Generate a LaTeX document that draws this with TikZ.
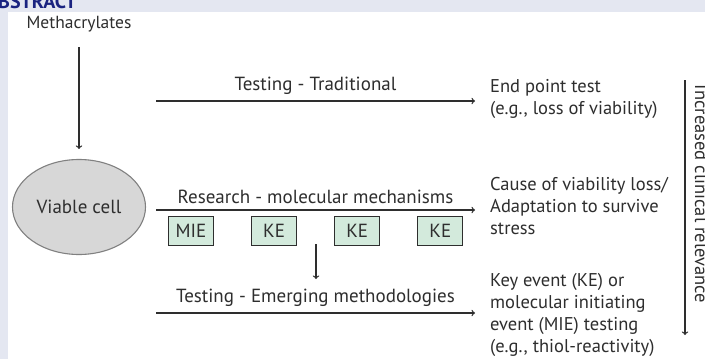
\documentclass[tikz,border=0pt]{standalone}
\usepackage{fontspec}
\setmainfont{PT Sans}
\usetikzlibrary{positioning, arrows, shapes.geometric}
\definecolor{pagebg}{HTML}{E4E7F1}
\definecolor{txt}{HTML}{2E2E2E}
\definecolor{boxfill}{HTML}{D3EADC}
\definecolor{cellfill}{HTML}{D7D7D7}
\definecolor{headblue}{HTML}{1A2380}

\begin{document}
\begin{tikzpicture}[x=1pt, y=-1pt, >=to, font=\fontsize{19}{21.5}\selectfont, text=txt,
  flow/.style = {->, draw=txt, line width=1.3pt},
  evbox/.style = {draw=txt, line width=1.1pt, fill=boxfill, minimum width=45pt, minimum height=29pt, inner sep=0pt},
  outcome/.style = {anchor=west, align=left, inner sep=0pt, font=\fontsize{18.5}{22}\selectfont}]
\useasboundingbox (0,0) rectangle (705,359);
\clip (0,0) rectangle (705,359);
\fill[pagebg] (0,0) rectangle (705,359);
\fill[white] (8,12) rectangle (705,359);
\node[anchor=base west, inner sep=0pt, text=headblue, font=\bfseries\fontsize{20}{20}\selectfont] (head) at (-2,8) {BSTRACT};

% cell and the compound
\node[font=\fontsize{17.5}{20}\selectfont] (meth) at (79,24) {Methacrylates};
\node[ellipse, draw=gray, line width=1.1pt, fill=cellfill, minimum width=133pt, minimum height=95pt] (cell) at (79,207) {Viable cell};
\draw[flow, shorten <=12pt, shorten >=10pt] (meth) -- (cell);

% three routes
\coordinate (trad-s) at (156,101);
\coordinate (trad-e) at (475,101);
\coordinate (res-s) at (156,210);
\coordinate (res-e) at (475,210);
\coordinate (emg-s) at (156,313);
\coordinate (emg-e) at (475,313);
\draw[flow] (trad-s) -- node[above=2pt] (trad) {Testing - Traditional} (trad-e);
\draw[flow] (res-s) -- node[above=2pt] (res) {Research - molecular mechanisms} (res-e);
\draw[flow] (emg-s) -- node[above=2pt] (emg) {Testing - Emerging methodologies} (emg-e);

% events
\node[evbox] (mie) at (191,231) {MIE};
\node[evbox, right=37pt of mie] (ke1) {KE};
\node[evbox, right=37pt of ke1] (ke2) {KE};
\node[evbox, right=37pt of ke2] (ke3) {KE};
\coordinate (down-s) at (316,244);
\coordinate (down-e) at (316,279);
\draw[flow] (down-s) -- (down-e);

% outcomes
\node[outcome] (end) at (490,99) {End point test\\(e.g., loss of viability)};
\node[outcome] (cause) at (490,206) {Cause of viability loss/\\Adaptation to survive\\stress};
\node[outcome] (key) at (490,315) {Key event (KE) or\\molecular initiating\\event (MIE) testing\\(e.g., thiol-reactivity)};

% relevance
\coordinate (rel-s) at (685,80);
\coordinate (rel-e) at (685,335);
\draw[flow] (rel-s) -- (rel-e);
\node[rotate=-90, anchor=base, inner sep=0pt, font=\fontsize{18.5}{22}\selectfont] (rel) at (695,194) {Increased clinical relevance};
\end{tikzpicture}
\end{document}
